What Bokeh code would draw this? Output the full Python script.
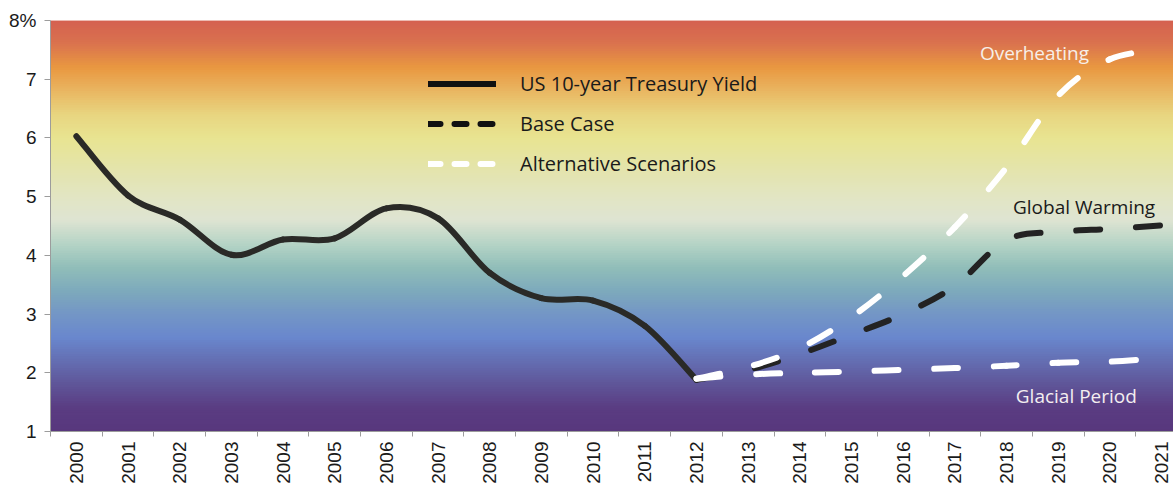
import math
import numpy as np
from bokeh.plotting import figure
from bokeh.models import (ColumnDataSource, FixedTicker, Legend, LegendItem, Label, Range1d)
from bokeh.embed import file_html
from bokeh.resources import INLINE

# ---------------- data ----------------
years = [str(y) for y in range(2000, 2022)]
hist_years = years[:13]                       # 2000..2012
hist_yield = [6.03, 5.02, 4.61, 4.01, 4.27, 4.29, 4.80, 4.63, 3.70, 3.27, 3.23, 2.80, 1.88]
proj_years = years[12:]                       # 2012..2021
base_case = [1.88, 2.05, 2.32, 2.65, 3.00, 3.48, 4.26, 4.40, 4.45, 4.51]
overheating = [1.90, 2.10, 2.42, 2.95, 3.65, 4.48, 5.50, 6.72, 7.34, 7.50]
glacial = [1.90, 1.97, 2.00, 2.02, 2.05, 2.08, 2.12, 2.17, 2.19, 2.25]
y_ticks = [1, 2, 3, 4, 5, 6, 7, 8]
y_tick_labels = ["1", "2", "3", "4", "5", "6", "7", "8%"]
legend_labels = ["US 10-year Treasury Yield", "Base Case", "Alternative Scenarios"]
scenario_labels = ["Overheating", "Global Warming", "Glacial Period"]

# ---------------- layout ----------------
W, H = 1173, 486
BL, BT, BB, BR = 50, 20, 54, 0
X0, X1 = -0.5, 21.23
Y0, Y1 = 1, 8
px_x = (W - BL - BR) / (X1 - X0)
px_y = (H - BT - BB) / (Y1 - Y0)

TEXT_FONT = "Open Sans"
AXIS_FONT = "Liberation Sans"

p = figure(width=W, height=H, output_backend="svg", toolbar_location=None,
           x_range=Range1d(X0, X1), y_range=Range1d(Y0, Y1),
           min_border_left=BL, min_border_top=BT, min_border_bottom=BB, min_border_right=BR)
p.outline_line_color = None
p.xgrid.visible = False
p.ygrid.visible = False
p.background_fill_color = "white"

# ---------------- background gradient ----------------
stops_v = [1.0, 1.4, 1.8, 2.2, 2.6, 3.0, 3.4, 3.8, 4.2, 4.6, 5.0, 5.5, 6.0, 6.4, 6.8, 7.2, 7.6, 8.0]
stops_c = [(88, 55, 125), (90, 60, 130), (95, 85, 152), (100, 110, 178), (105, 135, 205),
           (115, 150, 198), (125, 170, 188), (145, 190, 185), (182, 212, 198), (222, 228, 210),
           (226, 229, 195), (228, 228, 170), (232, 228, 145), (232, 213, 128), (233, 182, 98),
           (233, 152, 64), (218, 115, 78), (212, 96, 80)]
step = 0.04
bot = np.arange(Y0, Y1 - 1e-9, step)
top = np.minimum(bot + 2 * step, Y1)
mid = bot + step / 2
sv = np.array(stops_v)
sc = np.array(stops_c, dtype=float)
cols = []
for m in mid:
    r = np.interp(m, sv, sc[:, 0]); g = np.interp(m, sv, sc[:, 1]); b = np.interp(m, sv, sc[:, 2])
    cols.append("#%02x%02x%02x" % (int(round(r)), int(round(g)), int(round(b))))
p.quad(left=X0, right=X1, bottom=bot, top=top, fill_color=cols, line_color=None)


# ---------------- smoothed series (Excel-like) ----------------
def smooth_source(cats, vals, period=None):
    xs = [years.index(c) for c in cats]
    P = list(zip(xs, vals))
    n = len(P)
    d = dict(x0=[], y0=[], x1=[], y1=[], cx0=[], cy0=[], cx1=[], cy1=[], off=[])
    acc = 0.0
    for i in range(n - 1):
        pm = P[max(i - 1, 0)]; a = P[i]; b = P[i + 1]; pn = P[min(i + 2, n - 1)]
        d["x0"].append(a[0]); d["y0"].append(a[1])
        d["x1"].append(b[0]); d["y1"].append(b[1])
        d["cx0"].append(a[0] + (b[0] - pm[0]) / 6); d["cy0"].append(a[1] + (b[1] - pm[1]) / 6)
        d["cx1"].append(b[0] - (pn[0] - a[0]) / 6); d["cy1"].append(b[1] - (pn[1] - a[1]) / 6)
        d["off"].append(int(round(acc % period)) if period else 0)
        acc += np.hypot((b[0] - a[0]) * px_x, (b[1] - a[1]) * px_y) * 1.01
    return ColumnDataSource(d)


LW = 6
DASH = "24 36"
hist_src = smooth_source(hist_years, hist_yield)
p.bezier(x0="x0", y0="y0", x1="x1", y1="y1", cx0="cx0", cy0="cy0", cx1="cx1", cy1="cy1",
         source=hist_src, line_color="#2a2a27", line_width=LW, line_cap="round")

for vals, color in [(base_case, "#232323"), (overheating, "#ffffff"), (glacial, "#ffffff")]:
    src = smooth_source(proj_years, vals, period=60)
    p.bezier(x0="x0", y0="y0", x1="x1", y1="y1", cx0="cx0", cy0="cy0", cx1="cx1", cy1="cy1",
             source=src, line_color=color, line_width=LW, line_cap="round",
             line_dash=DASH, line_dash_offset="off")

# ---------------- legend (swatch-only renderers, nothing drawn in the plot) ----------------
r_solid = p.line(x=[np.nan], y=[np.nan], line_color="#111111", line_width=LW, line_cap="round")
r_base = p.line(x=[np.nan], y=[np.nan], line_color="#111111", line_width=LW, line_cap="round",
                line_dash="12 14")
r_alt = p.line(x=[np.nan], y=[np.nan], line_color="#ffffff", line_width=LW, line_cap="round",
               line_dash="12 14")
legend = Legend(items=[LegendItem(label=legend_labels[0], renderers=[r_solid]),
                       LegendItem(label=legend_labels[1], renderers=[r_base]),
                       LegendItem(label=legend_labels[2], renderers=[r_alt])],
                location=(378, 254), glyph_width=68, glyph_height=27, label_height=27,
                label_width=100, spacing=13, label_standoff=24, padding=0, margin=0,
                background_fill_alpha=0, border_line_color=None,
                label_text_font=TEXT_FONT, label_text_font_size="20px",
                label_text_color="#1a1a1a")
p.add_layout(legend)

# ---------------- scenario labels ----------------
p.add_layout(Label(x=18.54, y=7.45, text=scenario_labels[0], text_align="center",
                   text_baseline="middle", text_font=TEXT_FONT, text_font_size="19px",
                   text_color="#f7efe8"))
p.add_layout(Label(x=19.5, y=4.82, text=scenario_labels[1], text_align="center",
                   text_baseline="middle", text_font=TEXT_FONT, text_font_size="19px",
                   text_color="#1a1a1a"))
p.add_layout(Label(x=19.35, y=1.6, text=scenario_labels[2], text_align="center",
                   text_baseline="middle", text_font=TEXT_FONT, text_font_size="19px",
                   text_color="#f4eef0"))

# ---------------- axes ----------------
AX_COL = "#9c9c9c"
p.yaxis.ticker = FixedTicker(ticks=y_ticks)
p.yaxis.major_label_overrides = {t: l for t, l in zip(y_ticks, y_tick_labels)}
p.yaxis.axis_line_color = AX_COL
p.yaxis.major_tick_line_color = AX_COL
p.yaxis.major_tick_out = 6
p.yaxis.major_tick_in = 0
p.yaxis.minor_tick_line_color = None
p.yaxis.major_label_text_font = AXIS_FONT
p.yaxis.major_label_text_font_size = "19px"
p.yaxis.major_label_text_color = "#1a1a1a"
p.yaxis.major_label_standoff = 8

xt = list(range(len(years)))
p.xaxis.ticker = FixedTicker(ticks=xt, minor_ticks=[i - 0.5 for i in range(len(years) + 1)])
p.xaxis.major_label_overrides = {i: y for i, y in zip(xt, years)}
p.xaxis.major_label_orientation = math.pi / 2
p.xaxis.axis_line_color = AX_COL
p.xaxis.major_tick_line_color = None
p.xaxis.major_tick_out = 5
p.xaxis.major_tick_in = 0
p.xaxis.minor_tick_line_color = AX_COL
p.xaxis.minor_tick_out = 5
p.xaxis.minor_tick_in = 0
p.xaxis.major_label_text_font = AXIS_FONT
p.xaxis.major_label_text_font_size = "19px"
p.xaxis.major_label_text_color = "#1a1a1a"
p.xaxis.major_label_standoff = 5

open("out.html", "w").write(file_html(p, INLINE))
